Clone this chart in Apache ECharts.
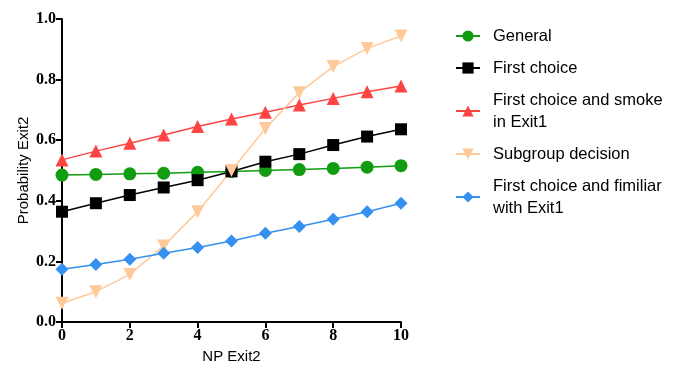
<!DOCTYPE html>
<html>
<head>
<meta charset="utf-8">
<script src="https://cdn.jsdelivr.net/npm/echarts@6/dist/echarts.min.js"></script>
<style>
html, body { margin: 0; padding: 0; background: #fff; }
#main { width: 680px; height: 372px; }
</style>
</head>
<body>
<div id="main"></div>
<script>
var npExit2 = [0, 1, 2, 3, 4, 5, 6, 7, 8, 9, 10];
var general = [0.485, 0.487, 0.489, 0.491, 0.494, 0.497, 0.500, 0.503, 0.507, 0.511, 0.516];
var firstChoice = [0.364, 0.392, 0.419, 0.444, 0.468, 0.497, 0.529, 0.554, 0.584, 0.612, 0.636];
var smokeExit1 = [0.535, 0.564, 0.590, 0.617, 0.645, 0.670, 0.692, 0.716, 0.738, 0.760, 0.779];
var subgroup = [0.062, 0.100, 0.157, 0.251, 0.364, 0.500, 0.639, 0.757, 0.843, 0.903, 0.944];
var familiarExit1 = [0.174, 0.190, 0.207, 0.227, 0.246, 0.267, 0.293, 0.315, 0.339, 0.364, 0.392];

var names = ['General', 'First choice', 'First choice and smoke\nin Exit1', 'Subgroup decision', 'First choice and fimiliar\nwith Exit1'];

function pairs(arr) {
    return arr.map(function (v, i) { return [npExit2[i], v]; });
}

var dom = document.getElementById('main');
var myChart = echarts.init(dom, null, { renderer: 'canvas' });

var tickFont = {
    fontFamily: 'Liberation Serif',
    fontWeight: 'bold',
    fontSize: 16,
    color: '#000'
};

var option = {
    animation: false,
    grid: { left: 62, right: 279, top: 19, bottom: 50 },
    legend: {
        orient: 'vertical',
        left: 455,
        top: 25,
        padding: 0,
        itemGap: 10,
        itemWidth: 24,
        itemHeight: 14,
        data: names,
        textStyle: {
            fontFamily: 'Liberation Sans',
            fontSize: 16.5,
            lineHeight: 22,
            color: '#000',
            padding: [0, 0, 0, 8]
        }
    },
    xAxis: {
        type: 'value',
        min: 0,
        max: 10,
        interval: 2,
        name: 'NP Exit2',
        nameLocation: 'middle',
        nameGap: 27,
        nameTextStyle: { fontFamily: 'Liberation Sans', fontSize: 15, color: '#000' },
        splitLine: { show: false },
        axisLine: { onZero: false, lineStyle: { color: '#000', width: 2 } },
        axisTick: { length: 6, lineStyle: { color: '#000', width: 2 } },
        axisLabel: Object.assign({ margin: 6 }, tickFont)
    },
    yAxis: {
        type: 'value',
        min: 0,
        max: 1,
        interval: 0.2,
        name: 'Probability Exit2',
        nameLocation: 'middle',
        nameGap: 31,
        nameTextStyle: { fontFamily: 'Liberation Sans', fontSize: 15, color: '#000' },
        splitLine: { show: false },
        axisLine: { show: true, lineStyle: { color: '#000', width: 2 } },
        axisTick: { show: true, length: 6, lineStyle: { color: '#000', width: 2 } },
        axisLabel: Object.assign({
            margin: 6,
            formatter: function (v) { return v.toFixed(1); }
        }, tickFont)
    },
    series: [
        {
            name: names[0],
            type: 'line',
            data: pairs(general),
            color: '#119c11',
            symbol: 'circle',
            symbolSize: 13,
            lineStyle: { width: 1.5 }
        },
        {
            name: names[1],
            type: 'line',
            data: pairs(firstChoice),
            color: '#000000',
            symbol: 'rect',
            symbolSize: 12,
            lineStyle: { width: 1.5 }
        },
        {
            name: names[2],
            type: 'line',
            data: pairs(smokeExit1),
            color: '#ff4444',
            symbol: 'triangle',
            symbolSize: 13,
            lineStyle: { width: 1.5 }
        },
        {
            name: names[3],
            type: 'line',
            data: pairs(subgroup),
            color: '#ffc999',
            symbol: 'triangle',
            symbolRotate: 180,
            symbolSize: 13,
            lineStyle: { width: 1.5 }
        },
        {
            name: names[4],
            type: 'line',
            data: pairs(familiarExit1),
            color: '#3590f0',
            symbol: 'diamond',
            symbolSize: 13,
            lineStyle: { width: 1.5 }
        }
    ]
};

if (option && typeof option === 'object') {
    myChart.setOption(option);
}

window.addEventListener('resize', myChart.resize);
</script>
</body>
</html>
